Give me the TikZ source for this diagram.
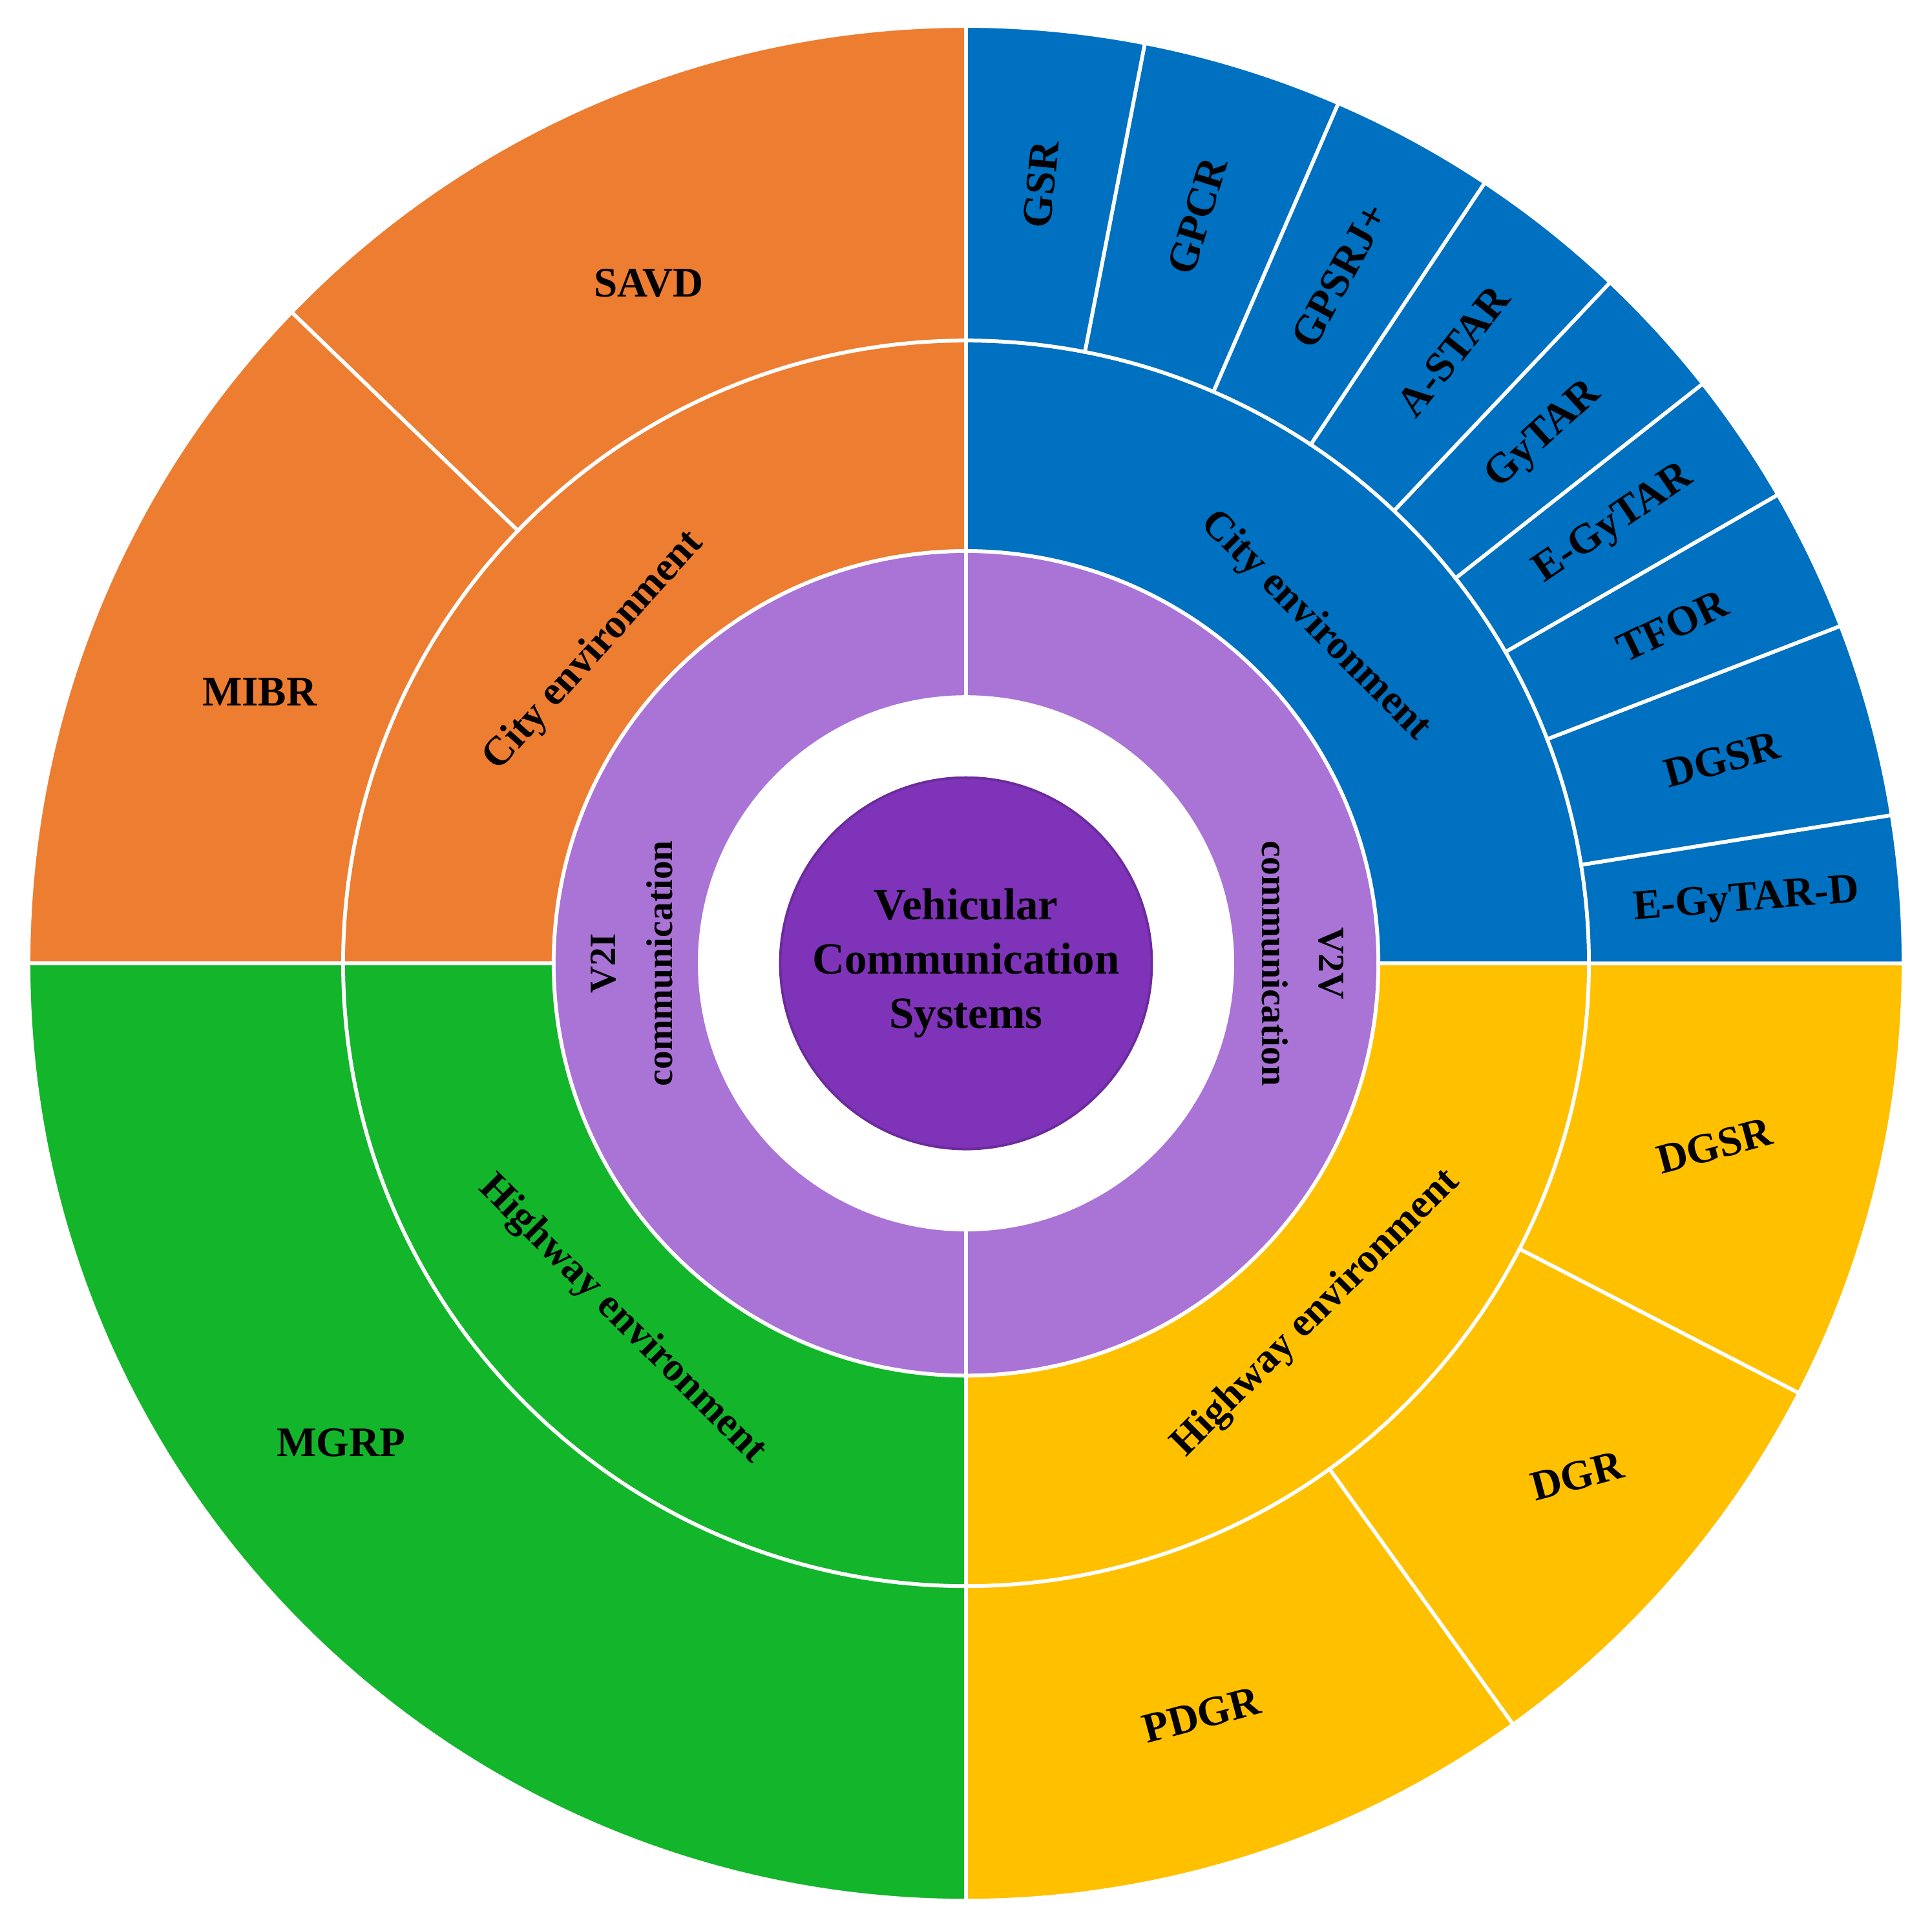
\documentclass[tikz,border=0pt]{standalone}
\usepackage{fontspec}
\setmainfont{Liberation Serif}
\definecolor{org}{HTML}{ED7D31}
\definecolor{blu}{HTML}{0070C0}
\definecolor{grn}{HTML}{13B52B}
\definecolor{yel}{HTML}{FFC000}
\definecolor{pur}{HTML}{A974D6}
\definecolor{dpur}{HTML}{7F33B8}
\newcommand\mysect[5]{\filldraw[fill=#5,draw=white,line width=3] (#1:#3) arc[start angle=#1,end angle=#2,radius=#3] -- (#2:#4) arc[start angle=#2,end angle=#1,radius=#4] -- cycle;}
\begin{document}
\begin{tikzpicture}[x=1pt,y=1pt,
  lab/.style={font=\fontsize{34}{40}\selectfont\bfseries,inner sep=0pt},
  mlab/.style={font=\fontsize{33}{39}\selectfont\bfseries,inner sep=0pt},
  plab/.style={font=\fontsize{30}{46}\selectfont\bfseries,align=center,inner sep=0pt},
  clab/.style={font=\fontsize{36}{44}\selectfont\bfseries,align=center,inner sep=0pt}]
\useasboundingbox (0,0) rectangle (1560,1550.6);
\begin{scope}[shift={(780,772.6)}]
% purple ring
\mysect{90}{270}{215}{333}{pur}
\mysect{-90}{90}{215}{333}{pur}
% middle ring
\mysect{0}{90}{333}{503}{blu}
\mysect{-90}{0}{333}{503}{yel}
\mysect{90}{180}{333}{503}{org}
\mysect{180}{270}{333}{503}{grn}
% outer ring
\mysect{90}{136}{503}{757}{org}
\mysect{136}{180}{503}{757}{org}
\mysect{180}{270}{503}{757}{grn}
\mysect{-27.3}{0}{503}{757}{yel}
\mysect{-54.3}{-27.3}{503}{757}{yel}
\mysect{-90}{-54.3}{503}{757}{yel}
\foreach \a/\b in {0/9.1,9.1/21.1,21.1/30,30/38.2,38.2/46.6,46.6/56.4,56.4/66.6,66.6/79,79/90}{\mysect{\a}{\b}{503}{757}{blu}}
% center
\filldraw[fill=dpur,draw=dpur!85!black,line width=2] (0,0) circle[radius=150];
\node[clab] (c) at (0,0) {Vehicular\\Communication\\Systems};
% purple labels
\node[plab,rotate=90] (v2i) at (180:270) {V2I\\communication};
\node[plab,rotate=-90] (v2v) at (0:272) {V2V\\communication};
% middle labels
\node[mlab,rotate=-45] (bc) at (44:392) {City environment};
\node[mlab,rotate=45] (yh) at (-45:400) {Highway environment};
\node[mlab,rotate=48] (oc) at (140:392) {City environment};
\node[mlab,rotate=-45] (gh) at (226:400) {Highway environment};
% outer labels
\node[lab] (savd) at (115:606) {SAVD};
\node[lab] (mibr) at (159:611) {MIBR};
\node[lab] (mgrp) at (217.5:636) {MGRP};
\node[lab,rotate=15] (ydgsr) at (-13.7:622) {DGSR};
\node[lab,rotate=15] (ydgr) at (-40:644) {DGR};
\node[lab,rotate=15] (pdgr) at (-72.6:636) {PDGR};
\foreach \m/\t [count=\i] in {4.55/E-GyTAR-D,15.1/DGSR,25.55/TFOR,34.1/E-GyTAR,42.4/GyTAR,51.5/A-STAR,61.5/GPSRJ+,72.8/GPCR,84.5/GSR}{
  \node[lab,rotate=\m] (b\i) at (\m:632) {\t};}
\end{scope}
\end{tikzpicture}
\end{document}
